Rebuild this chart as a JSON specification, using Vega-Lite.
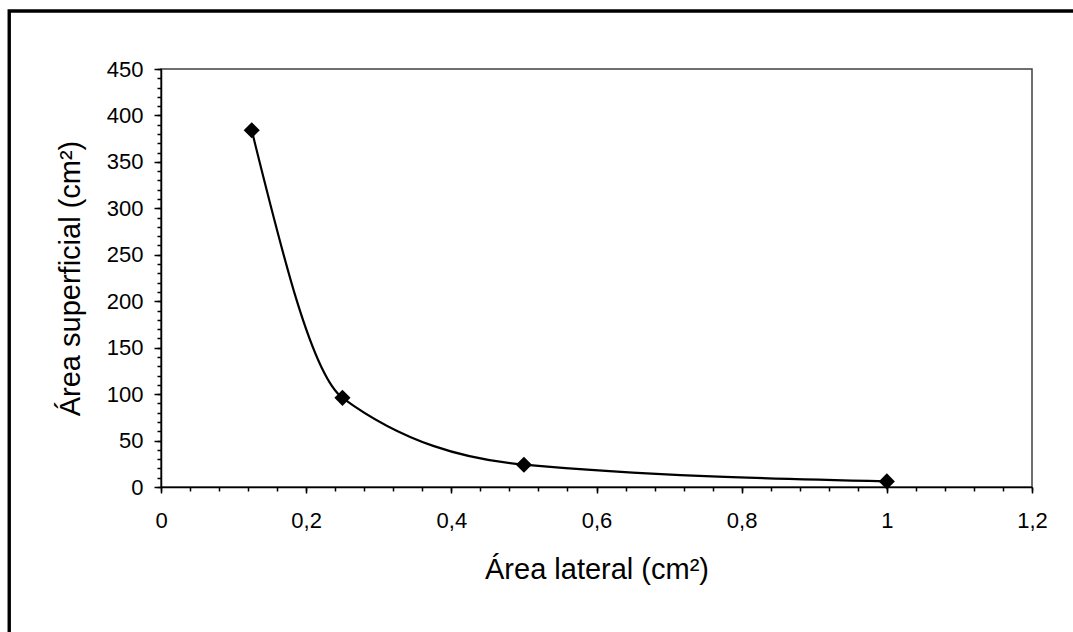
{
  "$schema": "https://vega.github.io/schema/vega-lite/v6.json",
  "width": 871,
  "height": 418,
  "autosize": {"type": "none"},
  "padding": {"left": 161, "top": 69, "right": 41, "bottom": 145},
  "background": "white",
  "config": {
    "view": {"stroke": "#404040", "strokeWidth": 1.5},
    "font": "Liberation Sans",
    "axis": {
      "grid": false,
      "labelFontSize": 22,
      "labelColor": "black",
      "labelOverlap": false,
      "labelFlush": false,
      "labelBound": false,
      "domainColor": "black",
      "domainWidth": 1.5,
      "tickColor": "black",
      "tickWidth": 1.5,
      "titleFontSize": 29,
      "titleFontWeight": "normal",
      "titleColor": "black"
    }
  },
  "data": {
    "values": [
      {"lateral": 0.125, "superficial": 384},
      {"lateral": 0.25, "superficial": 96},
      {"lateral": 0.5, "superficial": 24},
      {"lateral": 1, "superficial": 6}
    ]
  },
  "resolve": {"axis": {"x": "independent", "y": "independent"}},
  "layer": [
    {
      "mark": {"type": "line", "interpolate": "monotone", "color": "black", "strokeWidth": 2.2},
      "encoding": {
        "x": {
          "field": "lateral",
          "type": "quantitative",
          "scale": {"domain": [0, 1.2], "nice": false, "zero": false},
          "title": "Área lateral (cm²)",
          "axis": {
            "orient": "bottom",
            "values": [0, 0.2, 0.4, 0.6, 0.8, 1, 1.2],
            "labelExpr": "replace(format(datum.value,'.1~f'),'.',',')",
            "tickSize": 6,
            "labelPadding": 17,
            "titlePadding": 24
          }
        },
        "y": {
          "field": "superficial",
          "type": "quantitative",
          "scale": {"domain": [0, 450], "nice": false},
          "title": "Área superficial (cm²)",
          "axis": {
            "orient": "left",
            "values": [0, 50, 100, 150, 200, 250, 300, 350, 400, 450],
            "tickSize": 7,
            "labelPadding": 11,
            "titlePadding": 21
          }
        }
      }
    },
    {
      "mark": {"type": "point", "shape": "diamond", "filled": true, "color": "black", "size": 260, "opacity": 1},
      "encoding": {
        "x": {
          "field": "lateral",
          "type": "quantitative",
          "scale": {"domain": [0, 1.2], "nice": false, "zero": false},
          "axis": {
            "orient": "bottom",
            "values": [0,0.04,0.08,0.12,0.16,0.2,0.24,0.28,0.32,0.36,0.4,0.44,0.48,0.52,0.56,0.6,0.64,0.68,0.72,0.76,0.8,0.84,0.88,0.92,0.96,1,1.04,1.08,1.12,1.16,1.2],
            "labels": false,
            "domain": false,
            "title": null,
            "tickSize": 4
          }
        },
        "y": {
          "field": "superficial",
          "type": "quantitative",
          "scale": {"domain": [0, 450], "nice": false},
          "axis": {
            "orient": "left",
            "values": [0,10,20,30,40,50,60,70,80,90,100,110,120,130,140,150,160,170,180,190,200,210,220,230,240,250,260,270,280,290,300,310,320,330,340,350,360,370,380,390,400,410,420,430,440,450],
            "labels": false,
            "domain": false,
            "title": null,
            "tickSize": 4
          }
        }
      }
    },
    {
      "data": {"values": [{"frame": "outer"}]},
      "mark": {"type": "rect", "fill": "transparent", "stroke": "black", "strokeWidth": 3.4, "clip": false},
      "encoding": {
        "x": {"datum": -0.2091, "type": "quantitative", "scale": {"domain": [0, 1.2], "nice": false, "zero": false}, "axis": null},
        "x2": {"datum": 1.35},
        "y": {"datum": 512.4, "type": "quantitative", "scale": {"domain": [0, 450], "nice": false}, "axis": null},
        "y2": {"datum": -250}
      }
    }
  ]
}
